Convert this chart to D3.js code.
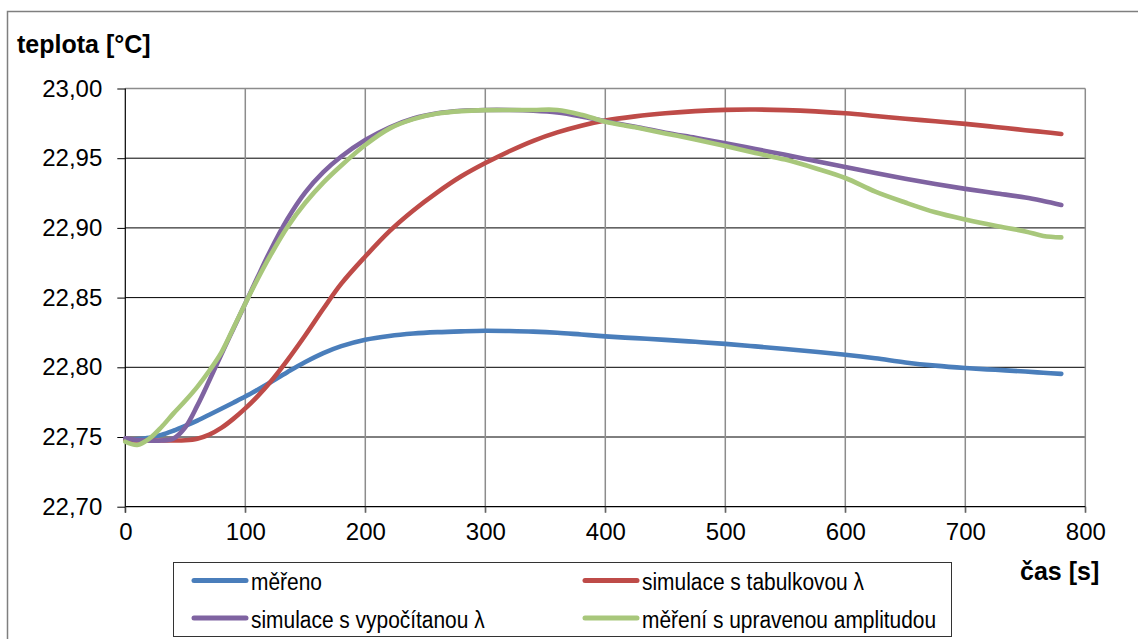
<!DOCTYPE html>
<html><head><meta charset="utf-8">
<script src="https://cdn.jsdelivr.net/npm/d3@7"></script>
<style>body{margin:0;background:#fff}svg{display:block;font-family:"Liberation Sans",Arial,sans-serif}</style>
</head><body>
<svg id="c" width="1138" height="639"></svg>
<script>
const times = [0,10,20,30,40,50,60,70,80,90,100,110,120,135,150,165,180,200,220,240,260,280,300,320,340,360,380,400,425,450,475,500,525,550,575,600,625,650,675,700,725,750,765,780];
const mereno = [22.748,22.7485,22.7495,22.7515,22.7545,22.758,22.7618,22.766,22.7703,22.7746,22.779,22.7838,22.7888,22.7965,22.8038,22.8102,22.8152,22.8198,22.8225,22.8242,22.8252,22.8258,22.8262,22.826,22.8256,22.8248,22.8235,22.8222,22.8209,22.8197,22.8183,22.8168,22.815,22.8131,22.8111,22.809,22.8065,22.8035,22.8012,22.7995,22.7982,22.797,22.7961,22.7953];
const simTab = [22.7475,22.7475,22.7475,22.7475,22.7475,22.7477,22.7488,22.7517,22.7565,22.763,22.7705,22.779,22.7885,22.805,22.823,22.842,22.860,22.8795,22.8975,22.9125,22.9255,22.937,22.9465,22.955,22.9625,22.9685,22.9733,22.977,22.980,22.9822,22.9838,22.9847,22.9849,22.9845,22.9836,22.9822,22.9803,22.9783,22.9765,22.9746,22.9724,22.9701,22.9688,22.9674];
const simVyp = [22.749,22.7478,22.7474,22.7475,22.7488,22.757,22.7725,22.7905,22.8092,22.8275,22.8458,22.8642,22.8822,22.9062,22.9255,22.940,22.9512,22.963,22.972,22.9785,22.9822,22.984,22.9846,22.9846,22.9841,22.9828,22.980,22.9765,22.9725,22.9683,22.9646,22.9608,22.9566,22.9524,22.948,22.9437,22.9394,22.9353,22.9315,22.928,22.9249,22.9218,22.9193,22.9165];
const merUpr = [22.7466,22.7443,22.7488,22.757,22.7668,22.776,22.786,22.7975,22.8105,22.828,22.8458,22.8628,22.8788,22.9005,22.918,22.9325,22.9448,22.9595,22.9712,22.978,22.982,22.9838,22.9845,22.9846,22.9846,22.9846,22.9812,22.9762,22.9722,22.9678,22.9635,22.9588,22.9537,22.949,22.9428,22.9358,22.926,22.9182,22.9112,22.906,22.9015,22.8975,22.8942,22.8932];
const seriesNames = ["měřeno","simulace s tabulkovou λ","simulace s vypočítanou λ","měření s upravenou amplitudou"];
const seriesColors = ["#4A7EBB","#BE4B48","#7F63A1","#A8C77B"];
const xTicks = [0,100,200,300,400,500,600,700,800];
const yTicks = [22.70,22.75,22.80,22.85,22.90,22.95,23.00];
const yTitle = "teplota [°C]";
const xTitle = "čas [s]";

const svg = d3.select("#c");
const L = 125.3, R = 1085.3, T = 88.5, B = 506.7;
const x = d3.scaleLinear().domain([0,800]).range([L,R]);
const y = d3.scaleLinear().domain([22.70,23.00]).range([B,T]);
const fmt = v => d3.format(".2f")(v).replace(".", ",");

// outer border
svg.append("rect").attr("x",7.5).attr("y",11.5).attr("width",1200).attr("height",700)
  .attr("fill","none").attr("stroke","#7f7f7f").attr("stroke-width",1.5);

// horizontal gridlines
svg.append("g").selectAll("line").data(yTicks.filter(v=>v>22.71 && v<22.99)).join("line")
  .attr("x1",L).attr("x2",R).attr("y1",d=>y(d)).attr("y2",d=>y(d))
  .attr("stroke","#000").attr("stroke-width",1);
svg.append("line").attr("x1",L).attr("x2",R).attr("y1",y(23)).attr("y2",y(23))
  .attr("stroke","#8c8c8c").attr("stroke-width",1.5);
// vertical gridlines
svg.append("g").selectAll("line").data(xTicks.filter(v=>v>0)).join("line")
  .attr("x1",d=>x(d)).attr("x2",d=>x(d)).attr("y1",T).attr("y2",B+6)
  .attr("stroke","#8c8c8c").attr("stroke-width",1.5);

// axes
const yAxis = d3.axisLeft(y).tickValues(yTicks).tickFormat(fmt).tickSize(8).tickPadding(8);
const gy = svg.append("g").attr("transform",`translate(${L},0)`).call(yAxis);
gy.select(".domain").attr("stroke","#000").attr("stroke-width",1.2).attr("d",`M0,${T}V${B+6}`);
gy.selectAll(".tick line").attr("stroke","#000");
gy.selectAll(".tick text").attr("font-size",24).attr("fill","#000").attr("font-family","Liberation Sans, Arial, sans-serif").attr("dx",-7);

const xAxis = d3.axisBottom(x).tickValues(xTicks).tickSize(6).tickPadding(10);
const gx = svg.append("g").attr("transform",`translate(0,${B})`).call(xAxis);
gx.select(".domain").attr("stroke","#000").attr("stroke-width",1.2).attr("d",`M${L},0H${R}`);
gx.selectAll(".tick line").attr("stroke","#555");
gx.selectAll(".tick text").attr("font-size",24).attr("fill","#000").attr("font-family","Liberation Sans, Arial, sans-serif");

// series
const allSeries = [mereno, simTab, simVyp, merUpr];
const line = d3.line().x((d,i)=>x(times[i])).y(d=>y(d)).curve(d3.curveCatmullRom.alpha(0.5));
allSeries.forEach((s,k)=>{
  svg.append("path").datum(s).attr("d",line).attr("fill","none")
    .attr("stroke",seriesColors[k]).attr("stroke-width",4.6)
    .attr("stroke-linecap","round").attr("stroke-linejoin","round");
});

// titles
svg.append("text").attr("x",17).attr("y",53).attr("font-size",25).attr("font-weight","bold").text(yTitle);
svg.append("text").attr("x",1020).attr("y",580).attr("font-size",25).attr("font-weight","bold").text(xTitle);

// legend
svg.append("rect").attr("x",173.5).attr("y",562.5).attr("width",778).attr("height",74)
  .attr("fill","#fff").attr("stroke","#333").attr("stroke-width",1);
const legPos = [[192,580.5],[583,580.5],[192,618],[583,618]];
seriesNames.forEach((n,k)=>{
  const [lx,ly] = legPos[k];
  svg.append("line").attr("x1",lx+2).attr("x2",lx+54).attr("y1",ly).attr("y2",ly)
    .attr("stroke",seriesColors[k]).attr("stroke-width",5).attr("stroke-linecap","round");
  svg.append("text").attr("transform",`translate(${lx+59},${ly+9.5}) scale(0.872,1)`)
    .attr("font-size",24).attr("fill","#000").text(n);
});
</script>
</body></html>
